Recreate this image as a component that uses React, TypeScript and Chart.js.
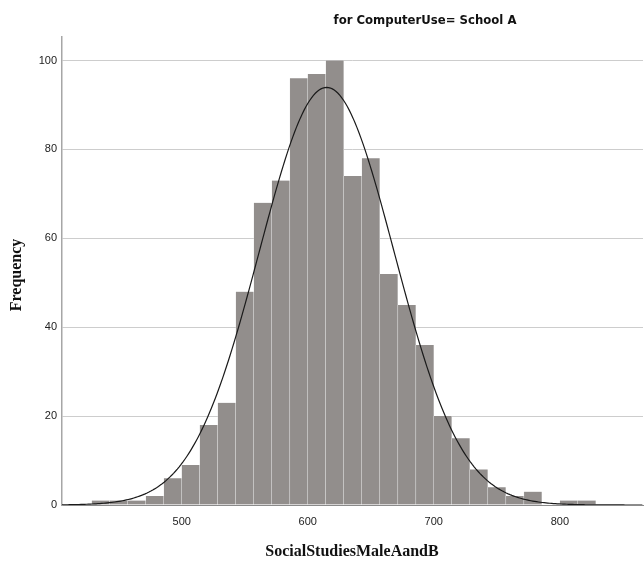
import React, { useEffect, useRef } from "react";
import { Chart, registerables } from "chart.js";

Chart.register(...registerables);

const TITLE = "for ComputerUse= School A";
const X_TITLE = "SocialStudiesMaleAandB";
const Y_TITLE = "Frequency";

const BIN_CENTERS = [
  435.7, 450.0, 464.3, 478.6, 492.9, 507.1, 521.4, 535.7, 550.0, 564.3,
  578.6, 592.9, 607.1, 621.4, 635.7, 650.0, 664.3, 678.6, 692.9, 707.1,
  721.4, 735.7, 750.0, 764.3, 778.6, 792.9, 807.1, 821.4,
];
const COUNTS = [
  1, 1, 1, 2, 6, 9, 18, 23, 48, 68,
  73, 96, 97, 100, 74, 78, 52, 45, 36, 20,
  15, 8, 4, 2, 3, 0, 1, 1,
];
const BIN_WIDTH = 100 / 7;
const MEAN = 615;
const SD = 53.5;

const X_TICKS = [500, 600, 700, 800];
const Y_TICKS = [0, 20, 40, 60, 80, 100];
const X_MIN = 405;
const X_MAX = 866;
const Y_MAX = 105.3;

function normalCurve() {
  const n = COUNTS.reduce((a, b) => a + b, 0);
  const pts: { x: number; y: number }[] = [];
  for (let x = X_MIN; x <= X_MAX + 0.001; x += 1.5) {
    const z = (x - MEAN) / SD;
    pts.push({ x, y: (n * BIN_WIDTH * Math.exp(-0.5 * z * z)) / (SD * Math.sqrt(2 * Math.PI)) });
  }
  return pts;
}

const titlesPlugin = {
  id: "titlesPlugin",
  afterDraw(chart: any) {
    const ctx = chart.ctx;
    ctx.save();
    ctx.fillStyle = "#111";
    ctx.textAlign = "center";
    ctx.textBaseline = "middle";
    ctx.font = 'bold 13px "Liberation Sans Narrow", "DejaVu Sans Condensed", sans-serif';
    ctx.fillText(TITLE, 425, 21);
    ctx.font = 'bold 16px "Liberation Serif", serif';
    ctx.fillText(X_TITLE, 352, 552);
    ctx.translate(17, 275);
    ctx.rotate(-Math.PI / 2);
    ctx.fillText(Y_TITLE, 0, 0);
    ctx.restore();
  },
};

export default function App() {
  const ref = useRef<HTMLCanvasElement | null>(null);
  useEffect(() => {
    if (!ref.current) return;
    const chart = new Chart(ref.current, {
      type: "bar",
      data: {
        datasets: [
          {
            type: "line",
            data: normalCurve(),
            borderColor: "#1a1a1a",
            borderWidth: 1.2,
            pointRadius: 0,
            tension: 0,
            order: 0,
          } as any,
          {
            type: "bar",
            data: BIN_CENTERS.map((x, i) => ({ x, y: COUNTS[i] })),
            backgroundColor: "#928e8c",
            borderColor: "#e4e4e4",
            borderWidth: { left: 0.5, right: 0.5, top: 0, bottom: 0 },
            borderSkipped: false,
            barPercentage: 1,
            categoryPercentage: 1,
            order: 1,
          } as any,
        ],
      },
      options: {
        responsive: false,
        animation: false,
        layout: { padding: { top: 37, right: 1, left: 0, bottom: 0 } },
        plugins: { legend: { display: false }, tooltip: { enabled: false }, title: { display: false } },
        scales: {
          x: {
            type: "linear",
            min: X_MIN,
            max: X_MAX,
            offset: false,
            grid: { display: false, drawTicks: false },
            border: { display: true, color: "#8a8a8a", width: 1 },
            afterBuildTicks: (s: any) => {
              s.ticks = X_TICKS.map((v) => ({ value: v }));
            },
            afterFit: (s: any) => {
              s.height = 61;
            },
            ticks: {
              padding: 10,
              color: "#222",
              font: { family: '"Liberation Sans", Arial, sans-serif', size: 11 },
              maxRotation: 0,
            },
          },
          y: {
            type: "linear",
            min: 0,
            max: Y_MAX,
            grid: { color: "#cdcdcd", lineWidth: 1, drawTicks: false },
            border: { display: true, color: "#a6a6a6", width: 1.5 },
            afterBuildTicks: (s: any) => {
              s.ticks = Y_TICKS.map((v) => ({ value: v }));
            },
            afterFit: (s: any) => {
              s.width = 62;
            },
            ticks: {
              padding: 5,
              color: "#222",
              font: { family: '"Liberation Sans", Arial, sans-serif', size: 11 },
            },
          },
        },
      },
      plugins: [titlesPlugin],
    });
    return () => chart.destroy();
  }, []);
  return (
    <div style={{ position: "fixed", left: 0, top: 0, width: 644, height: 566, background: "#fff" }}>
      <canvas ref={ref} width={644} height={566} style={{ display: "block" }} />
    </div>
  );
}
